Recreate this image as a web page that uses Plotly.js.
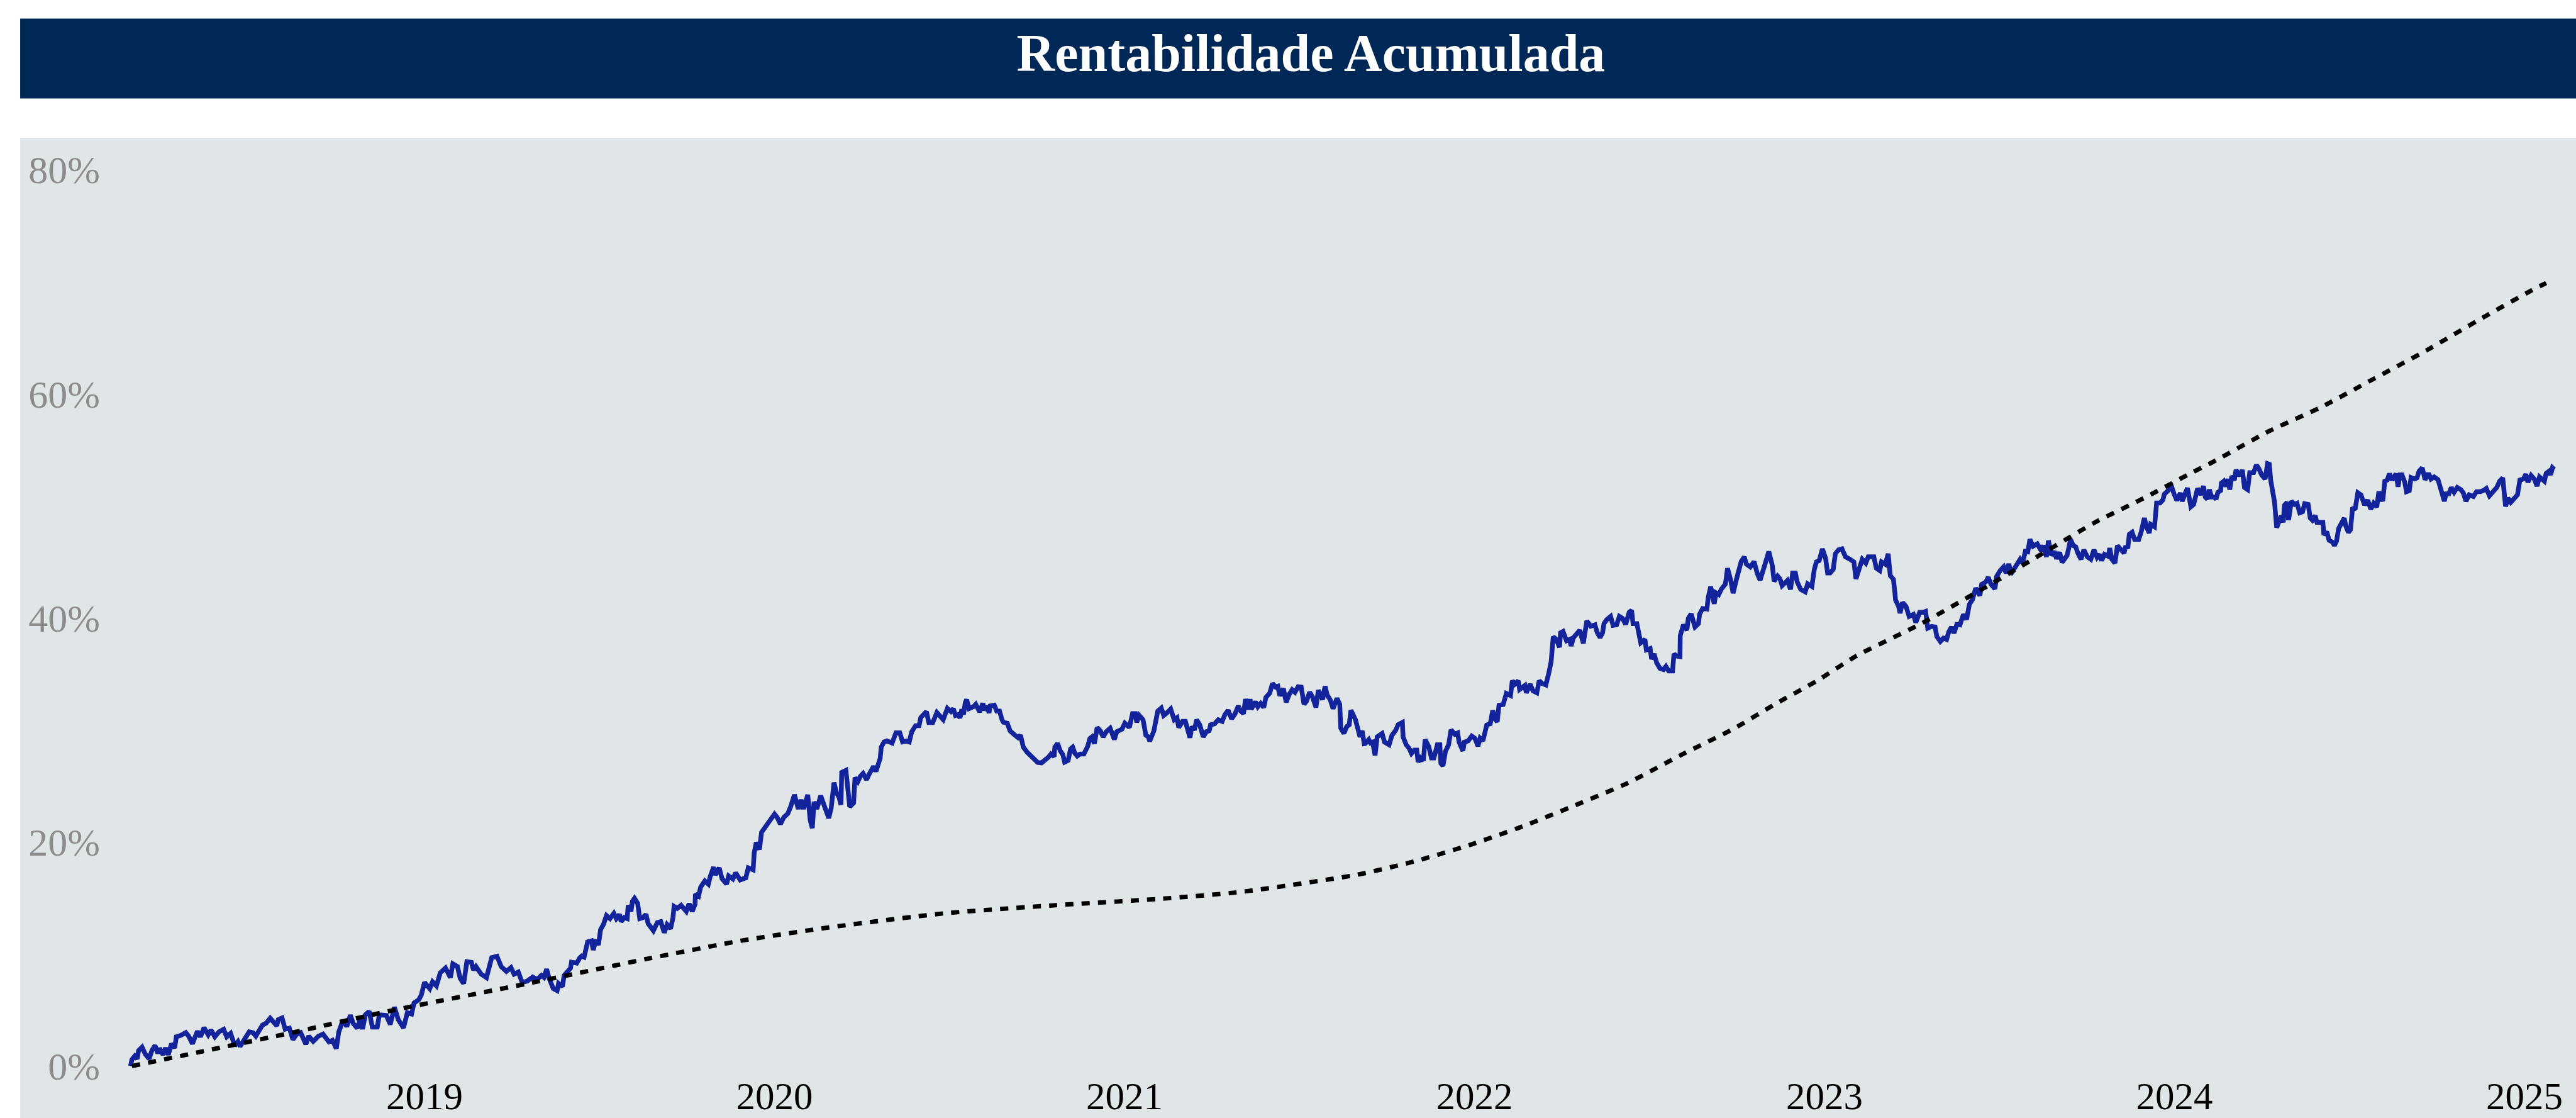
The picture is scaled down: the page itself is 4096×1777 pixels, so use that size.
<!DOCTYPE html>
<html>
<head>
<meta charset="utf-8">
<script src="https://cdn.plot.ly/plotly-3.0.1.min.js"></script>
<style>html,body{margin:0;padding:0;background:#fff;}#chart{width:4096px;height:1777px;}</style>
</head>
<body>
<div id="chart"></div>
<script>
// Fund cumulative return (%), x in decimal years
const fundoAnos = [
2018.160,2018.164,2018.172,2018.179,2018.183,2018.193,2018.202,2018.213,2018.221,2018.230,2018.238,2018.243,2018.253,2018.260,2018.268,2018.277,2018.286,2018.291,2018.303,2018.318,2018.326,2018.337,2018.351,2018.360,2018.370,2018.382,2018.390,2018.401,2018.413,2018.426,2018.435,2018.446,2018.458,2018.467,2018.473,2018.484,2018.499,2018.510,2018.518,2018.537,2018.548,2018.559,2018.569,2018.578,2018.582,2018.593,2018.602,2018.614,2018.624,2018.635,2018.646,2018.661,2018.669,2018.682,2018.697,2018.710,2018.727,2018.737,2018.748,2018.755,2018.767,2018.778,2018.788,2018.797,2018.808,2018.816,2018.823,2018.831,2018.842,2018.851,2018.865,2018.871,2018.891,2018.902,2018.914,2018.925,2018.940,2018.951,2018.963,2018.970,2018.984,2018.991,2019.000,2019.015,2019.023,2019.034,2019.045,2019.060,2019.074,2019.081,2019.094,2019.102,2019.112,2019.121,2019.134,2019.140,2019.147,2019.162,2019.177,2019.192,2019.207,2019.219,2019.234,2019.247,2019.256,2019.268,2019.279,2019.294,2019.309,
2019.322,2019.334,2019.341,2019.349,2019.356,2019.368,2019.379,2019.383,2019.394,2019.399,2019.409,2019.417,2019.420,2019.428,2019.435,2019.443,2019.449,2019.456,2019.466,2019.477,2019.482,2019.490,2019.497,2019.503,2019.511,2019.520,2019.530,2019.541,2019.548,2019.557,2019.562,2019.571,2019.579,2019.582,2019.590,2019.594,2019.600,2019.609,2019.615,2019.624,2019.633,2019.639,2019.654,2019.665,2019.675,2019.685,2019.693,2019.703,2019.710,2019.713,2019.722,2019.733,2019.748,2019.756,2019.765,2019.773,2019.774,2019.783,2019.789,2019.801,2019.811,2019.816,2019.826,2019.831,2019.842,2019.850,2019.863,2019.869,2019.881,2019.889,2019.902,2019.918,2019.925,2019.939,2019.942,2019.948,2019.957,2019.963,2019.978,2019.989,2020.000,2020.008,2020.017,2020.027,2020.038,2020.046,2020.057,2020.068,2020.076,2020.083,2020.095,2020.102,2020.108,2020.113,2020.121,2020.132,2020.143,2020.155,2020.162,2020.170,2020.177,2020.185,2020.190,2020.192,2020.204,2020.211,2020.215,2020.226,2020.230,2020.238,2020.245,2020.253,2020.263,2020.270,2020.283,2020.290,2020.302,2020.305,2020.313,2020.321,2020.336,2020.347,2020.358,2020.366,2020.377,2020.385,2020.392,2020.403,2020.413,2020.418,2020.434,2020.441,2020.452,2020.464,2020.475,2020.482,2020.494,2020.504,
2020.511,2020.517,2020.525,2020.530,2020.535,2020.540,2020.545,2020.549,2020.556,2020.568,2020.575,2020.586,2020.595,2020.601,2020.607,2020.613,2020.616,2020.628,2020.635,2020.643,2020.650,2020.654,2020.665,2020.673,2020.684,2020.696,2020.703,2020.711,2020.722,2020.729,2020.741,2020.752,2020.763,2020.775,2020.782,2020.790,2020.799,2020.801,2020.809,2020.816,2020.824,2020.829,2020.839,2020.846,2020.852,2020.858,2020.865,2020.873,2020.884,2020.895,2020.901,2020.907,2020.914,2020.922,2020.931,2020.939,2020.948,2020.959,2020.971,2020.978,2020.993,2021.001,2021.014,2021.023,2021.031,2021.035,2021.042,2021.053,2021.061,2021.068,2021.072,2021.084,2021.091,2021.095,2021.105,2021.112,2021.121,2021.132,2021.142,2021.150,2021.155,2021.166,2021.174,2021.181,2021.187,2021.193,2021.200,2021.206,2021.215,2021.225,2021.234,2021.242,2021.246,2021.257,2021.268,2021.279,2021.287,2021.296,2021.306,2021.316,2021.325,2021.332,2021.340,2021.346,2021.353,2021.359,2021.362,2021.374,2021.381,2021.389,2021.398,2021.404,2021.415,2021.423,2021.432,2021.438,2021.444,2021.454,2021.462,2021.471,2021.479,2021.487,2021.496,2021.505,2021.513,2021.520,2021.529,2021.537,2021.547,2021.554,2021.566,2021.573,2021.579,2021.588,2021.596,2021.607,2021.615,2021.618,2021.627,2021.635,2021.642,2021.647,2021.654,2021.660,2021.667,2021.673,2021.679,2021.685,
2021.688,2021.698,2021.703,2021.709,2021.716,2021.722,2021.736,2021.743,2021.756,2021.764,2021.775,2021.782,2021.794,2021.796,2021.805,2021.813,2021.820,2021.828,2021.835,2021.839,2021.846,2021.854,2021.859,2021.869,2021.877,2021.884,2021.894,2021.901,2021.904,2021.910,2021.917,2021.926,2021.933,2021.944,2021.952,2021.956,2021.967,2021.971,2021.982,2021.992,2022.001,2022.010,2022.016,2022.024,2022.030,2022.035,2022.045,2022.052,2022.060,2022.065,2022.070,2022.082,2022.091,2022.103,2022.108,2022.115,2022.125,2022.129,2022.144,2022.148,2022.159,2022.167,2022.178,2022.185,2022.193,2022.204,2022.212,2022.219,2022.225,2022.234,2022.243,2022.246,2022.253,2022.263,2022.272,2022.276,2022.283,2022.293,2022.301,2022.311,2022.321,2022.332,2022.344,2022.351,2022.359,2022.366,2022.370,2022.378,2022.389,2022.396,2022.406,2022.414,2022.423,2022.432,2022.442,2022.449,2022.453,2022.464,2022.469,2022.475,2022.487,2022.491,2022.502,2022.506,2022.513,2022.521,2022.530,2022.540,2022.547,2022.555,2022.566,2022.570,2022.577,2022.587,2022.588,2022.597,2022.607,2022.611,2022.619,2022.630,2022.640,2022.643,2022.652,2022.664,2022.668,2022.675,2022.685,2022.690,2022.698,2022.705,2022.717,2022.723,2022.732,2022.739,2022.747,2022.754,2022.762,2022.771,2022.777,2022.788,2022.799,2022.808,2022.816,2022.829,2022.841,2022.851,2022.856,2022.866,
2022.873,2022.879,2022.887,2022.894,2022.903,2022.909,2022.917,2022.922,2022.932,2022.945,2022.952,2022.964,2022.971,2022.977,2022.985,2022.994,2023.003,2023.009,2023.016,2023.025,2023.031,2023.040,2023.050,2023.060,2023.073,2023.084,2023.090,2023.099,2023.108,2023.118,2023.125,2023.141,2023.148,2023.158,2023.163,2023.174,2023.182,2023.188,2023.197,2023.201,2023.203,2023.212,2023.216,2023.223,2023.233,2023.242,2023.254,2023.261,2023.272,2023.281,2023.289,2023.295,2023.306,2023.316,2023.321,2023.331,2023.340,2023.349,2023.355,2023.363,2023.370,2023.378,2023.387,2023.397,2023.406,2023.414,2023.423,2023.432,2023.444,2023.449,2023.461,2023.468,2023.476,2023.487,2023.492,2023.502,2023.512,2023.519,2023.527,2023.532,2023.547,2023.559,2023.566,2023.574,2023.581,2023.587,2023.596,2023.608,2023.619,2023.626,2023.634,2023.640,2023.649,2023.657,2023.663,2023.672,2023.679,2023.693,2023.698,2023.703,2023.711,2023.718,2023.724,2023.733,2023.741,2023.751,2023.761,2023.770,2023.779,2023.786,2023.792,2023.800,2023.811,2023.815,2023.821,2023.830,2023.837,2023.849,2023.856,2023.860,2023.867,2023.871,2023.879,2023.886,2023.898,2023.905,2023.914,2023.920,2023.928,2023.932,2023.943,2023.949,2023.959,2023.967,2023.971,2023.980,2023.992,2023.999,2024.007,2024.017,2024.022,2024.037,2024.047,
2024.055,2024.060,2024.066,2024.076,2024.083,2024.088,2024.094,2024.100,2024.106,2024.113,2024.119,2024.124,2024.132,2024.134,2024.141,2024.147,2024.153,2024.158,2024.164,2024.171,2024.176,2024.186,2024.194,2024.200,2024.209,2024.215,2024.226,2024.234,2024.241,2024.249,2024.259,2024.266,2024.271,2024.275,2024.281,2024.286,2024.292,2024.298,2024.305,2024.311,2024.314,2024.322,2024.326,2024.334,2024.343,2024.350,2024.358,2024.366,2024.372,2024.382,2024.388,2024.394,2024.402,2024.407,2024.417,2024.424,2024.427,2024.435,2024.442,2024.452,2024.457,2024.463,2024.469,2024.479,2024.485,2024.490,2024.497,2024.503,2024.509,2024.516,2024.524,2024.533,2024.543,2024.552,2024.561,2024.569,2024.578,2024.584,2024.595,2024.601,2024.608,2024.614,2024.622,2024.633,2024.639,2024.644,2024.650,2024.658,2024.663,2024.671,2024.676,2024.686,2024.693,2024.699,2024.708,2024.716,2024.726,2024.733,2024.742,2024.753,2024.761,2024.771,2024.776,2024.784,2024.791,2024.799,2024.808,2024.818,2024.825,2024.833,2024.842,2024.854,2024.863,2024.874,2024.884,2024.891,2024.900,2024.912,2024.921,2024.929,2024.938,2024.946,2024.953,2024.961,2024.970,2024.980,2024.987,2024.997,2025.004,2025.010,2025.019,2025.028,2025.036,2025.043,2025.057,2025.062,2025.070,2025.075,2025.080,2025.085
];
const fundoRent = [
0.00,0.58,0.89,0.64,1.38,1.68,1.07,0.64,1.38,1.83,1.13,1.59,1.01,1.62,1.01,1.99,1.62,2.61,2.73,2.98,2.67,1.99,3.10,2.61,3.43,2.79,3.22,2.61,3.06,3.28,2.61,2.91,1.81,2.18,1.75,2.30,3.06,2.98,2.67,3.65,3.84,4.27,3.96,3.59,4.14,4.29,3.28,3.38,2.36,2.85,2.98,1.95,2.67,2.20,2.67,2.85,2.15,2.30,1.56,3.04,4.08,3.53,4.54,3.77,3.38,4.14,3.31,4.57,4.88,3.47,3.47,4.57,4.51,3.71,5.25,4.14,3.41,4.76,4.64,5.62,5.93,6.36,7.46,6.91,7.52,7.16,8.32,8.75,7.89,9.12,8.88,7.83,7.36,9.31,9.25,8.57,8.88,8.20,7.89,9.68,9.80,8.88,8.45,8.79,8.20,8.39,7.46,7.59,7.95,
7.73,8.09,7.91,8.64,7.82,6.91,6.73,7.37,7.09,8.09,8.54,8.72,9.27,9.18,9.18,9.63,9.81,9.72,11.08,11.17,10.36,11.26,10.81,12.17,12.62,13.43,13.16,13.62,13.16,13.53,12.89,13.25,13.16,14.34,13.80,14.70,14.97,14.52,13.16,13.25,13.53,12.71,12.08,12.80,12.89,11.90,12.62,12.26,13.25,14.25,14.07,14.34,13.80,14.49,13.80,14.43,15.34,15.16,15.97,16.52,16.24,16.88,17.75,17.06,17.69,16.73,16.24,16.97,16.70,17.24,16.61,16.79,17.69,17.51,19.05,19.96,19.32,20.86,21.59,21.95,22.49,22.17,21.59,22.22,22.53,23.13,24.21,22.95,23.76,22.95,24.21,21.95,21.23,23.58,22.95,24.12,23.04,22.13,23.04,25.30,24.40,23.94,23.31,26.21,26.39,24.49,23.13,23.49,25.75,25.39,25.85,26.12,25.57,26.03,26.75,26.30,27.48,28.47,28.93,29.02,28.83,29.74,29.74,28.93,29.02,28.93,29.83,30.37,30.37,31.10,31.64,30.65,30.65,31.55,31.19,30.92,31.92,31.64,
31.90,31.29,31.37,31.06,31.83,31.37,32.44,32.71,31.90,32.06,32.29,31.60,32.36,31.75,32.13,31.52,32.13,32.21,31.68,31.68,30.91,30.68,30.60,29.92,29.61,29.31,29.53,28.46,28.00,27.78,27.32,27.09,27.06,27.32,27.55,27.85,27.62,28.46,28.80,28.16,27.78,27.12,27.27,28.31,28.46,27.93,27.67,27.85,27.85,28.54,29.23,29.38,28.77,30.22,29.92,29.38,29.84,30.15,29.15,29.84,30.07,30.60,30.22,31.45,31.45,30.68,31.29,30.91,29.53,29.38,28.99,29.92,30.83,31.68,31.95,31.29,31.52,31.86,30.91,31.09,30.22,30.76,30.76,29.92,29.31,30.30,29.99,30.91,30.45,29.38,29.84,29.92,30.45,30.53,30.91,30.76,31.37,31.75,30.99,31.45,32.13,31.68,31.45,32.75,31.83,32.75,31.83,32.52,32.06,32.36,32.01,32.90,33.28,34.15,33.82,33.89,33.05,33.69,32.47,33.20,33.59,33.36,33.85,33.82,32.29,32.56,33.36,32.97,32.01,33.54,32.71,33.89,33.13,32.67,31.90,32.82,32.29,30.15,29.69,30.30,30.45,31.75,31.37,30.91,30.07,29.38,29.92,28.77,
28.79,29.14,28.84,28.91,27.73,29.38,29.68,28.91,28.67,29.50,29.97,30.48,30.67,29.38,28.67,28.37,27.90,28.20,28.20,27.14,27.50,27.26,29.14,28.55,27.50,27.50,28.67,28.67,27.02,26.79,28.08,28.67,30.01,29.61,29.73,28.91,28.13,28.91,29.02,29.45,29.26,28.55,29.26,29.02,29.85,30.44,30.55,31.73,30.91,30.72,32.20,32.27,33.26,33.07,34.39,34.08,34.39,33.61,33.96,33.31,34.08,33.49,33.31,34.39,34.15,34.01,35.02,36.08,38.32,38.08,37.38,38.67,38.79,37.96,38.08,37.49,38.25,38.55,38.90,37.73,39.73,39.26,39.38,38.67,38.25,38.67,39.49,39.85,40.13,39.33,39.38,40.13,39.96,39.42,40.50,40.67,39.49,39.49,38.43,37.78,38.08,37.14,37.26,36.32,36.79,35.96,35.49,35.38,35.66,35.26,35.26,36.79,36.60,36.55,38.43,39.38,38.90,39.96,40.36,39.19,39.49,40.32,40.83,40.79,41.84,42.79,41.26,42.24,42.08,42.55,43.02,44.43,43.37,42.20,43.26,44.32,45.02,45.44,44.79,44.55,45.02,43.96,43.37,44.67,45.92,44.67,43.26,43.73,
43.48,42.88,43.10,43.33,42.54,44.00,44.00,43.21,42.54,42.32,43.04,42.81,44.33,45.00,45.11,46.16,45.34,44.00,44.00,44.33,45.72,46.07,46.16,45.45,45.23,45.00,43.48,44.22,45.23,44.89,45.45,45.45,44.44,44.22,45.00,44.78,45.72,43.77,43.44,42.32,41.60,41.02,40.42,41.38,41.02,40.13,40.31,39.59,40.49,40.49,40.58,39.08,39.24,39.19,38.34,37.89,38.19,38.07,38.74,39.19,38.63,39.41,39.37,40.31,39.86,41.20,41.65,42.66,41.99,42.99,43.21,43.62,42.99,42.59,43.71,44.22,44.56,44.00,44.82,43.88,44.67,45.23,44.89,45.94,45.90,47.01,46.39,46.61,46.01,46.45,45.45,46.90,45.56,45.94,45.27,45.85,44.96,45.56,46.23,47.01,46.45,46.34,45.78,45.23,46.07,45.45,45.23,46.07,45.40,45.67,45.11,45.67,45.49,46.23,45.23,44.89,46.45,46.01,45.78,46.30,46.34,47.46,47.64,47.01,47.01,47.68,48.91,48.13,47.57,48.35,48.13,50.25,50.25,50.54,51.04,51.30,51.71,51.04,50.48,51.15,50.41,51.59,49.92,
50.13,50.79,51.55,50.98,51.77,50.79,50.60,51.45,50.79,50.79,50.60,51.21,51.36,52.02,52.20,51.73,52.39,51.45,52.67,52.30,53.20,52.67,53.20,51.64,51.45,52.96,52.96,53.65,53.33,52.77,52.39,53.77,53.71,52.30,51.07,50.32,48.06,48.63,49.10,48.53,50.04,50.32,48.72,50.42,50.13,50.23,49.38,49.47,50.19,50.13,48.91,48.72,49.14,48.53,48.50,48.53,47.40,47.69,46.93,46.75,46.46,46.84,47.97,48.53,48.91,48.16,47.63,47.88,49.85,49.66,51.17,50.98,50.08,50.51,49.70,50.23,49.89,51.26,50.42,52.20,52.30,52.86,52.30,52.86,51.70,52.77,52.77,52.11,51.26,51.36,52.52,52.39,52.49,53.09,53.39,52.34,52.90,52.39,52.58,52.34,51.36,50.42,51.07,51.07,51.64,51.21,51.64,51.45,51.17,50.42,50.98,50.83,51.26,51.26,51.39,51.55,50.89,51.26,51.64,52.20,52.49,49.95,50.70,50.32,50.70,50.98,52.30,52.39,52.82,52.11,52.71,52.39,51.77,52.58,52.20,52.90,53.09,52.77,53.39,53.24
];
// Benchmark cumulative return (%)
const benchAnos = [2018.164,2018.368,2018.631,2018.895,2019.301,2019.646,2019.902,2020.151,2020.482,2020.805,2021.106,2021.332,2021.664,2021.835,2021.986,2022.137,2022.287,2022.438,2022.588,2022.739,2022.860,2022.979,2023.092,2023.272,2023.468,2023.619,2023.770,2023.920,2024.041,2024.117,2024.268,2024.418,2024.569,2024.720,2024.870,2025.021,2025.062];
const benchRent = [0.00,1.32,3.04,4.88,7.40,9.63,11.17,12.35,13.62,14.36,14.93,15.54,17.07,18.32,19.73,21.38,23.26,25.26,27.73,30.08,32.32,34.39,36.62,39.41,42.88,45.67,48.47,50.81,52.82,54.03,56.63,58.79,61.33,63.87,66.60,69.24,69.89];

const xTickVals = [2019,2020,2021,2022,2023,2024,2025];
const xTickText = ["2019","2020","2021","2022","2023","2024","2025"];
const yTickVals = [0,20,40,60,80];
const yTickText = ["0%","20%","40%","60%","80%"];
const tituloTexto = "Rentabilidade Acumulada";

const serif = "'Liberation Serif', 'Times New Roman', Times, serif";

const traces = [
  {x: fundoAnos, y: fundoRent, type: 'scatter', mode: 'lines',
   line: {color: '#13239c', width: 7.5}, hoverinfo: 'skip'},
  {x: benchAnos, y: benchRent, type: 'scatter', mode: 'lines',
   line: {color: '#000000', width: 7, dash: '13px,13px', shape: 'spline', smoothing: 0.6}, hoverinfo: 'skip'}
];

const layout = {
  width: 4096, height: 1777,
  margin: {l: 160, r: 0, t: 219, b: 76, pad: 0},
  paper_bgcolor: '#ffffff',
  plot_bgcolor: 'rgba(0,0,0,0)',
  showlegend: false,
  title: {
    text: '<b>' + tituloTexto + '</b>',
    font: {family: serif, size: 84, color: '#ffffff'},
    x: 0.5089, xanchor: 'center', xref: 'container',
    y: 0.9528, yanchor: 'middle', yref: 'container'
  },
  xaxis: {
    type: 'linear', range: [2018.0746, 2025.1473],
    tickmode: 'array', tickvals: xTickVals, ticktext: xTickText,
    showgrid: false, zeroline: false, showline: false, ticks: '',
    tickfont: {family: serif, size: 61, color: '#000000'}
  },
  yaxis: {
    range: [-0.3706, 82.85],
    tickmode: 'array', tickvals: yTickVals, ticktext: yTickText,
    showgrid: false, zeroline: false, showline: false, ticks: '',
    tickfont: {family: serif, size: 62, color: '#8c8c8c'}
  },
  shapes: [
    {type: 'rect', xref: 'paper', yref: 'paper', x0: -0.0325, x1: 1.01, y0: -0.06, y1: 1.0,
     fillcolor: '#e0e5e8', line: {width: 0}, layer: 'below'},
    {type: 'rect', xref: 'paper', yref: 'paper', x0: -0.0325, x1: 1.01, y0: 1.04224, y1: 1.12780,
     fillcolor: '#002856', line: {width: 0}, layer: 'below'}
  ]
};

Plotly.newPlot('chart', traces, layout, {displayModeBar: false, responsive: false});
</script>
</body>
</html>
